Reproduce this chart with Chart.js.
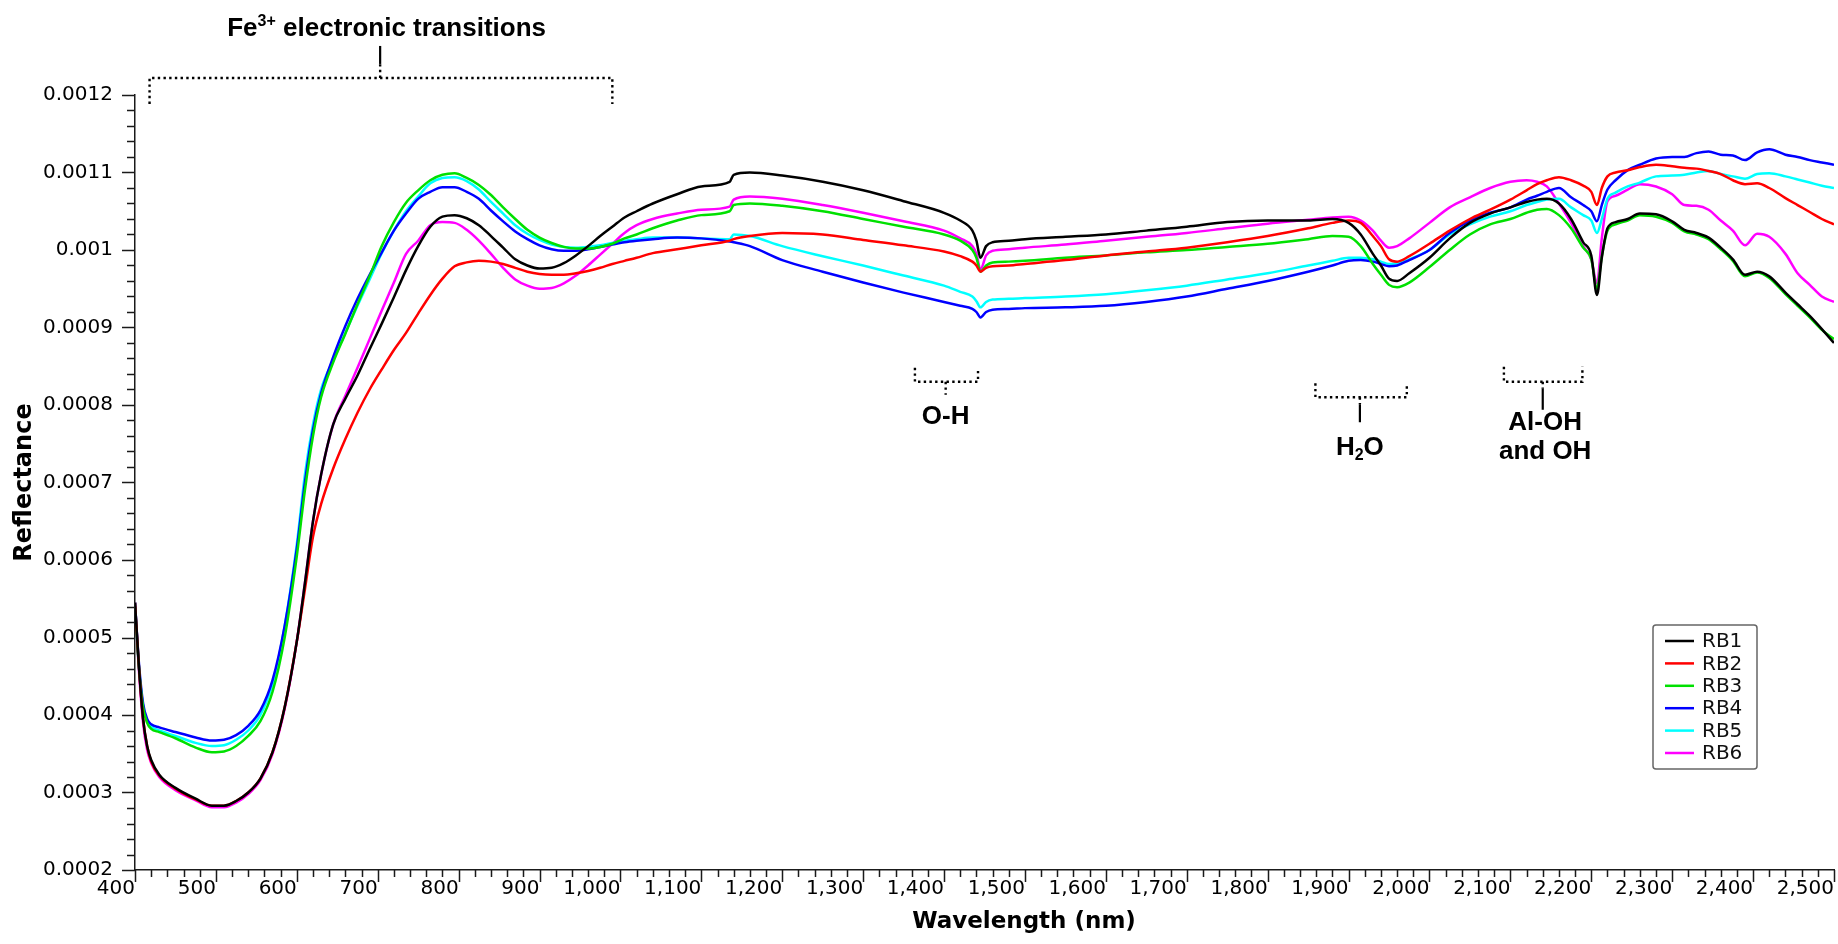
<!DOCTYPE html>
<html>
<head>
<meta charset="utf-8">
<script src="https://cdn.jsdelivr.net/npm/chart.js@4/dist/chart.umd.min.js"></script>
<style>
    html, body { margin: 0; padding: 0; background: #fff; }
    #wrap { width: 1838px; height: 944px; position: relative; }
</style>
</head>
<body>
<div id="wrap"><canvas id="chart"></canvas></div>
<script>
// wavelength grid (nm) shared by all samples
var WAVELENGTH = [400, 405, 410, 415, 420, 430, 450, 475, 495, 510,
    525, 540, 555, 570, 585, 600, 610, 620, 630, 645,
    660, 675, 690, 705, 720, 735, 750, 765, 780, 795,
    810, 825, 840, 855, 870, 885, 900, 915, 930, 945,
    960, 975, 990, 1005, 1020, 1040, 1070, 1100, 1135, 1140,
    1160, 1200, 1250, 1300, 1350, 1400, 1420, 1435, 1440, 1445,
    1452, 1460, 1480, 1500, 1550, 1600, 1650, 1700, 1750, 1800,
    1850, 1880, 1900, 1915, 1930, 1940, 1950, 1960, 1975, 2000,
    2025, 2050, 2075, 2100, 2120, 2133, 2145, 2160, 2175, 2190,
    2200, 2207, 2213, 2220, 2230, 2245, 2260, 2280, 2300, 2315,
    2330, 2345, 2360, 2375, 2390, 2405, 2420, 2440, 2455, 2470,
    2485, 2500];

var RB1 = [0.000545, 0.00046, 0.000395, 0.00036, 0.000342, 0.000323, 0.000306, 0.000292, 0.000283, 0.000283,
    0.000289, 0.0003, 0.000318, 0.000352, 0.00041, 0.000495, 0.00057, 0.00065, 0.00071, 0.000775,
    0.000808, 0.000838, 0.000872, 0.000905, 0.000939, 0.000974, 0.001005, 0.00103, 0.001043, 0.001045,
    0.001041, 0.001032, 0.001018, 0.001003, 0.000988, 0.00098, 0.000976, 0.000977, 0.000983, 0.000993,
    0.001005, 0.001018, 0.00103, 0.001042, 0.00105, 0.00106, 0.001072, 0.001082, 0.001088, 0.001097,
    0.0011, 0.001096, 0.001088, 0.001077, 0.001063, 0.001048, 0.001038, 0.001025, 0.001012, 0.00099,
    0.001005, 0.00101, 0.001012, 0.001014, 0.001017, 0.00102, 0.001025, 0.00103, 0.001036, 0.001038,
    0.001038, 0.00104, 0.001035, 0.00102, 0.000995, 0.00098, 0.000963, 0.00096, 0.00097, 0.00099,
    0.001015, 0.001035, 0.001047, 0.001055, 0.001062, 0.001065, 0.001066, 0.00106, 0.00104, 0.00101,
    0.000993, 0.000942, 0.00099, 0.001028, 0.001036, 0.00104, 0.001047, 0.001046, 0.001037, 0.001026,
    0.001022, 0.001016, 0.001003, 0.000988, 0.000968, 0.000972, 0.000966, 0.000945, 0.00093, 0.000915,
    0.000898, 0.00088];

var RB2 = [0.000545, 0.00046, 0.000395, 0.00036, 0.00034, 0.000322, 0.000305, 0.000291, 0.000283, 0.000283,
    0.000289, 0.0003, 0.000318, 0.000352, 0.00041, 0.000495, 0.000562, 0.00063, 0.000672, 0.000718,
    0.000756, 0.00079, 0.00082, 0.000846, 0.000871, 0.000893, 0.000918, 0.000942, 0.000963, 0.000979,
    0.000984, 0.000986, 0.000985, 0.000982, 0.000977, 0.000972, 0.000969, 0.000968, 0.000968, 0.00097,
    0.000973, 0.000977, 0.000982, 0.000986, 0.00099, 0.000996, 0.001001, 0.001006, 0.001012, 0.001014,
    0.001018, 0.001022, 0.00102, 0.001013, 0.001006, 0.000998, 0.000992, 0.000985, 0.00098, 0.000972,
    0.000977, 0.000979, 0.00098, 0.000982, 0.000987, 0.000993, 0.000998, 0.001003, 0.00101, 0.001018,
    0.001028, 0.001035, 0.001038, 0.001035, 0.001018, 0.001005, 0.000988, 0.000985, 0.000992, 0.001008,
    0.001025, 0.00104, 0.001052, 0.001065, 0.001077, 0.001085, 0.00109, 0.001094, 0.00109, 0.001083,
    0.001075, 0.001058, 0.00108, 0.001095, 0.0011, 0.001103, 0.001107, 0.00111, 0.001108, 0.001106,
    0.001105, 0.001102, 0.001098, 0.00109, 0.001085, 0.001086, 0.00108, 0.001067, 0.001058, 0.001049,
    0.00104, 0.001033];

var RB3 = [0.00054, 0.00046, 0.00041, 0.00039, 0.000382, 0.000378, 0.00037, 0.000358, 0.000352, 0.000353,
    0.00036, 0.000373, 0.000392, 0.00043, 0.0005, 0.000605, 0.00069, 0.00076, 0.00081, 0.000855,
    0.000892, 0.00093, 0.000966, 0.001005, 0.001036, 0.001061, 0.001077, 0.00109, 0.001097, 0.001099,
    0.001093, 0.001084, 0.001071, 0.001055, 0.00104, 0.001026, 0.001016, 0.001009, 0.001004, 0.001002,
    0.001002, 0.001004, 0.001008, 0.001015, 0.00102, 0.001028, 0.001038, 0.001045, 0.00105, 0.001058,
    0.00106, 0.001057, 0.00105, 0.00104, 0.00103, 0.00102, 0.001012, 0.001, 0.00099, 0.000972,
    0.00098, 0.000984, 0.000985, 0.000986, 0.00099, 0.000993, 0.000997, 0.001, 0.001004, 0.001008,
    0.001014, 0.001018, 0.001017, 0.001005, 0.000982, 0.000968, 0.000955, 0.000952, 0.000958, 0.000978,
    0.001, 0.00102, 0.001033, 0.00104, 0.001048, 0.001052, 0.001053, 0.001045, 0.001028, 0.001003,
    0.000988, 0.00095, 0.000992, 0.001025, 0.001033, 0.001038, 0.001045, 0.001043, 0.001035, 0.001024,
    0.00102, 0.001014, 0.001001, 0.000986, 0.000966, 0.000971, 0.000964, 0.000943, 0.000928, 0.000913,
    0.000897, 0.000885];

var RB4 = [0.000545, 0.000465, 0.000415, 0.000395, 0.000388, 0.000384, 0.000378, 0.000371, 0.000367, 0.000368,
    0.000374, 0.000386, 0.000406, 0.000445, 0.000515, 0.000615, 0.0007, 0.000768, 0.000815, 0.000862,
    0.000902, 0.000937, 0.000968, 0.000997, 0.001025, 0.001047, 0.001066, 0.001075, 0.001081, 0.001081,
    0.001075, 0.001066, 0.001051, 0.001037, 0.001024, 0.001014, 0.001006, 0.001001, 0.000999, 0.000999,
    0.001001, 0.001004, 0.001007, 0.00101, 0.001012, 0.001014, 0.001016, 0.001015, 0.001011, 0.00101,
    0.001005, 0.000987, 0.000972, 0.000958, 0.000945, 0.000933, 0.000928, 0.000924, 0.00092, 0.000913,
    0.00092, 0.000923, 0.000924, 0.000925, 0.000926, 0.000928, 0.000933, 0.00094, 0.00095, 0.00096,
    0.000972, 0.00098, 0.000986, 0.000987, 0.000985, 0.000982, 0.000979, 0.00098, 0.000987, 0.001,
    0.001022, 0.001038, 0.001048, 0.001055, 0.001065, 0.00107, 0.001075, 0.00108, 0.001068, 0.001058,
    0.00105, 0.001037, 0.001058, 0.001078, 0.00109, 0.001103, 0.00111, 0.001118, 0.00112, 0.00112,
    0.001125, 0.001127, 0.001123, 0.001122, 0.001116, 0.001126, 0.00113, 0.001123, 0.00112, 0.001116,
    0.001113, 0.00111];

var RB5 = [0.000545, 0.00046, 0.000412, 0.000392, 0.000385, 0.00038, 0.000373, 0.000364, 0.00036, 0.000361,
    0.000368, 0.00038, 0.0004, 0.00044, 0.000515, 0.00062, 0.00071, 0.000775, 0.00082, 0.000858,
    0.000893, 0.000928, 0.000962, 0.000996, 0.001025, 0.00105, 0.001069, 0.001086, 0.001093, 0.001094,
    0.001089, 0.001078, 0.001062, 0.001047, 0.001032, 0.001021, 0.001013, 0.001007, 0.001004, 0.001003,
    0.001004, 0.001006, 0.001009, 0.001012, 0.001014, 0.001016, 0.001016, 0.001015, 0.001014, 0.00102,
    0.001018, 0.001005, 0.000992, 0.00098, 0.000967, 0.000954, 0.000946, 0.00094, 0.000934, 0.000926,
    0.000933, 0.000936, 0.000937, 0.000938, 0.00094, 0.000943, 0.000948, 0.000954, 0.000962, 0.00097,
    0.00098, 0.000986, 0.00099, 0.00099, 0.000988, 0.000985, 0.000982, 0.000983, 0.000988, 0.001,
    0.00102, 0.001033, 0.001043, 0.00105, 0.001058, 0.001062, 0.001065, 0.001066, 0.001055, 0.001045,
    0.001038, 0.001022, 0.00104, 0.001066, 0.001074, 0.001082, 0.001087, 0.001095, 0.001096, 0.001097,
    0.0011, 0.001102, 0.001098, 0.001095, 0.001092, 0.001098, 0.001099, 0.001095, 0.001091, 0.001087,
    0.001083, 0.00108];

var RB6 = [0.00054, 0.000455, 0.00039, 0.000355, 0.000338, 0.00032, 0.000303, 0.00029, 0.000281, 0.000281,
    0.000287, 0.000298, 0.000316, 0.00035, 0.000408, 0.000495, 0.00057, 0.00065, 0.00071, 0.000775,
    0.000812, 0.000848, 0.000885, 0.000922, 0.000958, 0.000995, 0.001012, 0.001032, 0.001036, 0.001035,
    0.001026, 0.001012, 0.000995, 0.000977, 0.000962, 0.000954, 0.00095, 0.000951, 0.000957, 0.000967,
    0.00098, 0.000994, 0.001008, 0.001022, 0.001032, 0.00104, 0.001047, 0.001052, 0.001056, 0.001065,
    0.001069, 0.001066, 0.001058, 0.001048, 0.001037, 0.001025, 0.001015, 0.001005, 0.000995, 0.000975,
    0.000993, 0.000999, 0.001001, 0.001003, 0.001007, 0.001012, 0.001017, 0.001022, 0.001028, 0.001034,
    0.001039, 0.001042, 0.001043, 0.001038, 0.001025, 0.001012, 0.001003, 0.001005, 0.001015, 0.001035,
    0.001055, 0.001068, 0.00108, 0.001088, 0.00109, 0.001088, 0.001082, 0.00106, 0.001035, 0.001005,
    0.000988, 0.000957, 0.001015, 0.001063, 0.00107, 0.001078, 0.001085, 0.001082, 0.001072, 0.001058,
    0.001057, 0.001052, 0.001038, 0.001025, 0.001006, 0.001021, 0.001017, 0.000995, 0.00097, 0.000955,
    0.00094, 0.000933];

var SERIES_NAMES = ['RB1', 'RB2', 'RB3', 'RB4', 'RB5', 'RB6'];
var SERIES_VALUES = [RB1, RB2, RB3, RB4, RB5, RB6];
var SERIES_COLORS = ['#000000', '#ff0000', '#00e000', '#0000ff', '#00ffff', '#ff00ff'];

var X_MIN = 400, X_MAX = 2500, X_STEP = 100, X_MINOR = 20;
var Y_MIN = 0.0002, Y_MAX = 0.0012, Y_STEP = 0.0001;

// absorption feature brackets: wavelength span, level (reflectance) of the bar, arm/stem length in px
var BRACKETS = [
    {from: 418, to: 990, mid: 703, level: 0.001222, arm: 26, stem: -14, solid: [-32, -14]},
    {from: 1364, to: 1442, mid: 1402, level: 0.00083, arm: -14, stem: 13},
    {from: 1859, to: 1972, mid: 1914, level: 0.00081, arm: -14, stem: 7, solid: [7, 25]},
    {from: 2092, to: 2189, mid: 2140, level: 0.00083, arm: -15, stem: 7, solid: [7, 28]}
];
var NOTES = [
    {at: 711, level: 0.001222, dy: -42, parts: [['Fe'], ['3+', 'sup'], [' electronic transitions']]},
    {at: 1402, level: 0.00083, dy: 42, parts: [['O-H']]},
    {at: 1914, level: 0.00081, dy: 58, parts: [['H'], ['2', 'sub'], ['O']]},
    {at: 2143, level: 0.00083, dy: 48, parts: [['Al-OH']]},
    {at: 2143, level: 0.00083, dy: 77, parts: [['and OH']]}
];

var SANS = '"DejaVu Sans", Verdana, sans-serif';
var TICK_FONT = '20px ' + SANS;
var NOTE_SIZE = 26;
var AXIS_COLOR = '#1a1a1a';

function fmtThousands(v) {
    return Math.round(v).toString().replace(/\B(?=(\d{3})+(?!\d))/g, ',');
}

function drawTicks(chart) {
    var ctx = chart.ctx, xs = chart.scales.x, ys = chart.scales.y;
    ctx.save();
    ctx.strokeStyle = AXIS_COLOR;
    ctx.lineWidth = 1.5;
    ctx.beginPath();
    for (var k = 0; k <= (X_MAX - X_MIN) / X_MINOR; k++) {
        var w = X_MIN + k * X_MINOR;
        var px = Math.round(xs.getPixelForValue(w)) + 0.5;
        var len = (w % X_STEP === 0) ? 12 : 7;
        ctx.moveTo(px, ys.bottom);
        ctx.lineTo(px, ys.bottom + len);
    }
    var nMinor = Math.round((Y_MAX - Y_MIN) / (Y_STEP / 5));
    for (var j = 0; j <= nMinor; j++) {
        var v = Y_MIN + j * Y_STEP / 5;
        var py = Math.round(ys.getPixelForValue(v)) + 0.5;
        var l2 = (j % 5 === 0) ? 13 : 8;
        ctx.moveTo(xs.left, py);
        ctx.lineTo(xs.left - l2, py);
    }
    ctx.stroke();
    ctx.restore();
}

function drawXTitle(chart) {
    var ctx = chart.ctx;
    ctx.save();
    ctx.font = 'bold 23px ' + SANS;
    ctx.fillStyle = '#000';
    ctx.textAlign = 'center';
    ctx.textBaseline = 'middle';
    ctx.fillText('Wavelength (nm)', 1024, 922);
    ctx.restore();
}

function drawLegend(chart) {
    var ctx = chart.ctx;
    var box = {x: 1653, y: 625, w: 104, h: 144};
    ctx.save();
    ctx.fillStyle = '#fff';
    ctx.strokeStyle = '#666';
    ctx.lineWidth = 1.5;
    ctx.beginPath();
    ctx.roundRect(box.x, box.y, box.w, box.h, 3);
    ctx.fill();
    ctx.stroke();
    ctx.font = TICK_FONT;
    ctx.textBaseline = 'middle';
    ctx.fillStyle = '#111';
    for (var i = 0; i < SERIES_NAMES.length; i++) {
        var y = box.y + 16 + i * 22.4;
        ctx.strokeStyle = SERIES_COLORS[i];
        ctx.lineWidth = 2.5;
        ctx.beginPath();
        ctx.moveTo(box.x + 12, y);
        ctx.lineTo(box.x + 41, y);
        ctx.stroke();
        ctx.fillText(SERIES_NAMES[i], box.x + 49, y + 1);
    }
    ctx.restore();
}

function drawBracket(ctx, b, xs, ys) {
    var x1 = xs.getPixelForValue(b.from), x2 = xs.getPixelForValue(b.to), xm = xs.getPixelForValue(b.mid);
    var yl = ys.getPixelForValue(b.level);
    ctx.save();
    ctx.strokeStyle = '#000';
    ctx.lineWidth = 2.4;
    ctx.setLineDash([2.4, 3.3]);
    ctx.beginPath();
    ctx.moveTo(x1, yl + b.arm);
    ctx.lineTo(x1, yl);
    ctx.lineTo(x2, yl);
    ctx.lineTo(x2, yl + b.arm);
    ctx.moveTo(xm, yl);
    ctx.lineTo(xm, yl + b.stem);
    ctx.stroke();
    if (b.solid) {
        ctx.setLineDash([]);
        ctx.lineWidth = 2.2;
        ctx.beginPath();
        ctx.moveTo(xm, yl + b.solid[0]);
        ctx.lineTo(xm, yl + b.solid[1]);
        ctx.stroke();
    }
    ctx.restore();
}

function drawNote(ctx, n, xs, ys) {
    var big = 'bold ' + NOTE_SIZE + 'px "Liberation Sans", Arial, sans-serif';
    var small = 'bold ' + Math.round(NOTE_SIZE * 0.62) + 'px "Liberation Sans", Arial, sans-serif';
    var total = 0, widths = [];
    ctx.save();
    for (var i = 0; i < n.parts.length; i++) {
        ctx.font = n.parts[i][1] ? small : big;
        widths.push(ctx.measureText(n.parts[i][0]).width);
        total += widths[i];
    }
    var x = xs.getPixelForValue(n.at) - total / 2;
    var base = ys.getPixelForValue(n.level) + n.dy;
    ctx.fillStyle = '#000';
    ctx.textBaseline = 'alphabetic';
    ctx.textAlign = 'left';
    for (var p = 0; p < n.parts.length; p++) {
        var kind = n.parts[p][1];
        ctx.font = kind ? small : big;
        var off = kind === 'sup' ? -10 : (kind === 'sub' ? 5 : 0);
        ctx.fillText(n.parts[p][0], x, base + off);
        x += widths[p];
    }
    ctx.restore();
}

var decorations = {
    id: 'decorations',
    afterDraw: function(chart) {
        var xs = chart.scales.x, ys = chart.scales.y;
        drawTicks(chart);
        drawXTitle(chart);
        BRACKETS.forEach(function(b) { drawBracket(chart.ctx, b, xs, ys); });
        NOTES.forEach(function(n) { drawNote(chart.ctx, n, xs, ys); });
        drawLegend(chart);
    }
};

var datasets = SERIES_NAMES.map(function(name, i) {
    return {
        label: name,
        data: WAVELENGTH.map(function(w, k) { return {x: w, y: SERIES_VALUES[i][k]}; }),
        borderColor: SERIES_COLORS[i],
        borderWidth: 2.5,
        pointRadius: 0,
        fill: false,
        cubicInterpolationMode: 'monotone'
    };
});

new Chart(document.getElementById('chart'), {
    type: 'line',
    data: {datasets: datasets},
    options: {
        responsive: true,
        maintainAspectRatio: false,
        animation: false,
        devicePixelRatio: 1,
        layout: {padding: {left: 0, top: 95, right: 4, bottom: 0}},
        plugins: {legend: {display: false}, tooltip: {enabled: false}},
        scales: {
            x: {
                type: 'linear',
                min: X_MIN, max: X_MAX,
                afterFit: function(s) { s.height = 74; },
                border: {display: true, color: AXIS_COLOR, width: 1.5},
                grid: {display: true, drawOnChartArea: false, tickLength: 7, color: 'rgba(0,0,0,0)'},
                ticks: {
                    stepSize: X_STEP, autoSkip: false, maxRotation: 0, align: 'end', padding: 0,
                    color: '#000', font: {family: SANS, size: 20},
                    callback: function(v) { return fmtThousands(v); }
                }
            },
            y: {
                min: Y_MIN, max: Y_MAX,
                afterFit: function(s) { s.width = 135; },
                border: {display: true, color: AXIS_COLOR, width: 1.5},
                grid: {display: true, drawOnChartArea: false, tickLength: 14, color: 'rgba(0,0,0,0)'},
                ticks: {
                    stepSize: Y_STEP, padding: 8, color: '#000',
                    font: {family: SANS, size: 20},
                    callback: function(v) { return parseFloat(v.toFixed(5)).toString(); }
                },
                title: {
                    display: true, text: 'Reflectance', color: '#000',
                    font: {family: SANS, size: 24, weight: 'bold'},
                    padding: {top: 10, bottom: 0}
                }
            }
        }
    },
    plugins: [decorations]
});
</script>
</body>
</html>
